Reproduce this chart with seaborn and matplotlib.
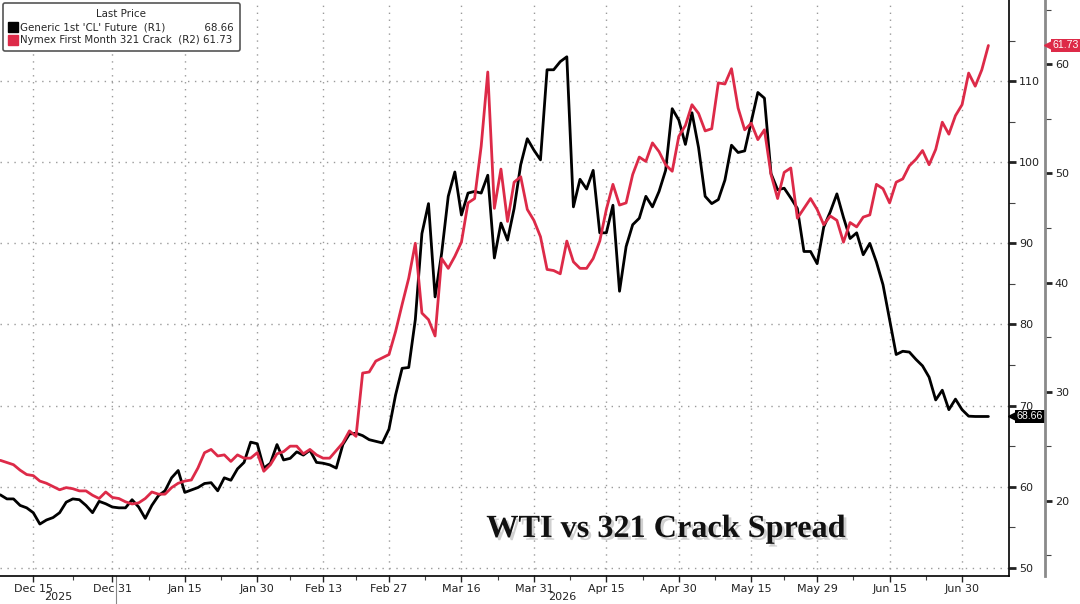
import numpy as np
import pandas as pd
import matplotlib
matplotlib.use("Agg")
import matplotlib.pyplot as plt
import matplotlib.patheffects as pe
import matplotlib.transforms as mtransforms
from matplotlib.lines import Line2D
import seaborn as sns

OUT_PATH = "out.png"

# trading days (weekdays) starting Mon 8 Dec 2025
START = "2025-12-08"

# Generic 1st 'CL' Future (R1)
WTI = [
    59.0, 58.5, 58.5, 57.7, 57.4, 56.8, 55.4, 55.9, 56.2, 56.8,
    58.1, 58.5, 58.4, 57.7, 56.8, 58.2, 57.9, 57.5, 57.4, 57.4,
    58.4, 57.5, 56.1, 57.7, 58.9, 59.5, 61.1, 62.0, 59.3, 59.6,
    59.9, 60.4, 60.5, 59.5, 61.1, 60.8, 62.2, 63.0, 65.5, 65.3,
    62.3, 62.9, 65.2, 63.3, 63.5, 64.3, 63.9, 64.5, 63.0, 62.9,
    62.7, 62.3, 65.2, 66.5, 66.6, 66.3, 65.8, 65.6, 65.4, 67.1,
    71.3, 74.6, 74.7, 80.6, 91.2, 94.9, 83.4, 88.8, 95.8, 98.8,
    93.5, 96.2, 96.4, 96.2, 98.4, 88.2, 92.5, 90.4, 94.3, 99.7,
    102.9, 101.5, 100.3, 111.4, 111.4, 112.4, 113.0, 94.5, 97.9, 96.7,
    99.0, 91.3, 91.3, 94.7, 84.1, 89.6, 92.3, 93.1, 95.8, 94.5,
    96.4, 99.0, 106.6, 105.2, 102.2, 106.1, 101.8, 95.8, 94.9, 95.4,
    97.8, 102.1, 101.2, 101.4, 105.0, 108.6, 107.9, 98.6, 96.6, 96.8,
    95.6, 94.3, 89.0, 89.0, 87.5, 92.0, 93.9, 96.1, 93.2, 90.6,
    91.3, 88.6, 90.0, 87.7, 84.9, 80.6, 76.3, 76.7, 76.6, 75.7,
    74.9, 73.5, 70.7, 71.9, 69.5, 70.8, 69.5, 68.7, 68.66, 68.66,
    68.66,
]

# Nymex First Month 321 Crack (R2)
CRACK = [
    23.7, 23.5, 23.3, 22.8, 22.4, 22.3, 21.8, 21.6, 21.3, 21.0,
    21.2, 21.1, 20.9, 20.9, 20.5, 20.2, 20.8, 20.3, 20.2, 19.9,
    19.7, 19.8, 20.2, 20.8, 20.6, 20.6, 21.2, 21.6, 21.8, 21.9,
    23.0, 24.4, 24.7, 24.1, 24.2, 23.6, 24.2, 23.9, 23.9, 24.4,
    22.7, 23.3, 24.3, 24.5, 25.0, 25.0, 24.3, 24.7, 24.2, 23.9,
    23.9, 24.6, 25.3, 26.4, 25.9, 31.7, 31.8, 32.8, 33.1, 33.4,
    35.5, 38.0, 40.4, 43.6, 37.2, 36.6, 35.1, 42.2, 41.3, 42.4,
    43.7, 47.3, 47.7, 52.5, 59.3, 46.8, 50.4, 45.6, 49.2, 49.7,
    46.7, 45.7, 44.2, 41.2, 41.1, 40.8, 43.8, 41.9, 41.3, 41.3,
    42.2, 43.8, 46.7, 49.0, 47.1, 47.3, 49.9, 51.5, 51.1, 52.8,
    52.0, 50.8, 50.2, 53.4, 54.4, 56.3, 55.5, 53.9, 54.1, 58.3,
    58.2, 59.6, 56.0, 54.0, 54.6, 53.1, 54.0, 49.9, 47.7, 50.1,
    50.5, 45.9, 46.8, 47.7, 46.7, 45.3, 46.1, 45.7, 43.7, 45.5,
    45.1, 46.0, 46.2, 49.0, 48.6, 47.3, 49.2, 49.5, 50.7, 51.3,
    52.1, 50.8, 52.2, 54.7, 53.6, 55.3, 56.3, 59.2, 58.0, 59.5,
    61.73,
]

TICK_DATES = [
    "2025-12-15", "2025-12-31", "2026-01-15", "2026-01-30", "2026-02-13",
    "2026-02-27", "2026-03-16", "2026-03-31", "2026-04-15", "2026-04-30",
    "2026-05-15", "2026-05-29", "2026-06-15", "2026-06-30",
]
TICK_LABELS = [
    "Dec 15", "Dec 31", "Jan 15", "Jan 30", "Feb 13", "Feb 27", "Mar 16",
    "Mar 31", "Apr 15", "Apr 30", "May 15", "May 29", "Jun 15", "Jun 30",
]
YEARS = ["2025", "2026"]
R1_TICKS = [50, 60, 70, 80, 90, 100, 110]
R1_MINOR = [55, 65, 75, 85, 95, 105, 115]
R2_TICKS = [20, 30, 40, 50, 60]
R2_MINOR = [15, 25, 35, 45, 55, 65]

LABEL_R1 = "Generic 1st 'CL' Future  (R1)"
LABEL_R2 = "Nymex First Month 321 Crack  (R2)"
TITLE = "WTI vs 321 Crack Spread"

RED = "#dd2a48"
GRID = "#9a9a9a"
TAG_FONT = ["Liberation Sans", "DejaVu Sans"]


def add_tag(axis, fig, yval, color, dx_pts):
    base = axis.get_yaxis_transform()
    tr_txt = mtransforms.offset_copy(base, fig=fig, x=dx_pts + 5.2, y=0, units="points")
    tr_tri = mtransforms.offset_copy(base, fig=fig, x=dx_pts + 3.4, y=0, units="points")
    axis.plot([1], [yval], transform=tr_tri, marker="<", markersize=8.5,
              color=color, clip_on=False, zorder=9)
    axis.text(1, yval, f"{yval:.2f}", transform=tr_txt, ha="left", va="center",
              color="white", fontsize=7.6, family=TAG_FONT, clip_on=False,
              zorder=10,
              bbox=dict(boxstyle="square,pad=0.17", fc=color, ec="none"))


def main():
    sns.set_theme(style="white")
    plt.rcParams["font.family"] = ["DejaVu Sans"]

    dates = pd.bdate_range(START, periods=len(WTI))
    df = pd.DataFrame({"pos": np.arange(len(dates)), "wti": WTI, "crack": CRACK})
    tick_pos = [dates.get_loc(pd.Timestamp(d)) for d in TICK_DATES]
    minor_pos = [(a + b) / 2 for a, b in zip(tick_pos[:-1], tick_pos[1:])]
    sep = (dates.year == 2025).sum() - 0.5

    fig = plt.figure(figsize=(10.8, 6.04), dpi=100)
    ax = fig.add_axes([0.0, 0.0464, 0.9347, 0.9536])
    ax2 = ax.twinx()

    sns.lineplot(data=df, x="pos", y="wti", ax=ax, color="black", linewidth=2.0)
    sns.lineplot(data=df, x="pos", y="crack", ax=ax2, color=RED, linewidth=2.0)

    x0, x1 = -0.05, 153.2
    ax.set_xlim(x0, x1)
    ax.set_ylim(49, 120)
    ax2.set_ylim(13.1, 65.9)
    ax.set_xlabel("")
    ax.set_ylabel("")
    ax2.set_ylabel("")

    # spines
    for s in ["left", "top"]:
        ax.spines[s].set_visible(False)
    ax.spines["right"].set_color("black")
    ax.spines["right"].set_linewidth(1.2)
    ax.spines["bottom"].set_color("black")
    ax.spines["bottom"].set_linewidth(1.2)
    for s in ["left", "top", "bottom"]:
        ax2.spines[s].set_visible(False)
    ax2.spines["right"].set_position(("outward", 25.7))
    ax2.spines["right"].set_color("#8a8a8a")
    ax2.spines["right"].set_linewidth(2.0)

    # x axis
    ax.set_xticks(tick_pos)
    ax.set_xticklabels(TICK_LABELS)
    ax.set_xticks(minor_pos, minor=True)
    ax.tick_params(axis="x", which="major", bottom=True, direction="out",
                   length=4, width=1, pad=2, labelsize=8, colors="#222222")
    ax.tick_params(axis="x", which="minor", bottom=True, direction="out",
                   length=3, width=0.8, colors="#444444")

    # R1 axis
    ax.yaxis.set_ticks_position("right")
    ax.set_yticks(R1_TICKS)
    ax.set_yticks(R1_MINOR, minor=True)
    ax.tick_params(axis="y", which="major", right=True, left=False,
                   labelright=True, labelleft=False, direction="out",
                   length=5, width=2, pad=2, labelsize=8, colors="#222222")
    ax.tick_params(axis="y", which="minor", right=True, left=False,
                   direction="out", length=4, width=0.8, colors="#444444")

    # R2 axis
    ax2.set_yticks(R2_TICKS)
    ax2.set_yticks(R2_MINOR, minor=True)
    ax2.tick_params(axis="y", which="major", right=True, direction="out",
                    length=5, width=2, pad=2, labelsize=8, colors="#222222")
    ax2.tick_params(axis="y", which="minor", right=True, direction="out",
                    length=4, width=0.8, colors="#444444")

    # dotted grid
    ax.grid(True, which="major", axis="both", color=GRID,
            linestyle=(0, (1, 4)), linewidth=1)
    ax2.grid(False)

    # years under the date labels + divider
    trans = mtransforms.blended_transform_factory(ax.transData, ax.transAxes)
    ax.text((x0 + sep) / 2, -0.037, YEARS[0], transform=trans, ha="center",
            va="center", fontsize=8, color="#222222")
    ax.text((sep + x1) / 2, -0.037, YEARS[1], transform=trans, ha="center",
            va="center", fontsize=8, color="#222222")
    ax.plot([sep, sep], [0, -0.06], transform=trans, color="#888888",
            linewidth=0.8, clip_on=False)

    # legend
    handles = [
        Line2D([], [], marker="s", color="black", linestyle="none", markersize=7.5),
        Line2D([], [], marker="s", color=RED, linestyle="none", markersize=7.5),
    ]
    labels = [
        f"{LABEL_R1}            {WTI[-1]:.2f}",
        f"{LABEL_R2} {CRACK[-1]:.2f}",
    ]
    leg = ax2.legend(handles, labels, title="Last Price", loc="upper left",
                     bbox_to_anchor=(0.003, 0.995), fontsize=7.4,
                     title_fontsize=7.4, frameon=True, fancybox=True,
                     edgecolor="#555555", handletextpad=0.35, handlelength=0.7,
                     borderpad=0.6, labelspacing=0.3, borderaxespad=0)
    leg.get_frame().set_linewidth(1.2)
    leg.get_frame().set_alpha(1)

    # last value tags
    add_tag(ax, fig, WTI[-1], "black", 0.0)
    add_tag(ax2, fig, CRACK[-1], RED, 25.7)

    # title
    fig.text(0.617, 0.111, TITLE, fontsize=23.2, fontweight="bold",
             family=["Liberation Serif", "DejaVu Serif"], ha="center",
             va="baseline", color="#111111",
             path_effects=[pe.SimplePatchShadow(offset=(2, -2),
                                                shadow_rgbFace="#8a8a8a",
                                                alpha=0.4),
                           pe.Normal()])

    fig.savefig(OUT_PATH, dpi=100)
    plt.close(fig)


if __name__ == "__main__":
    main()
